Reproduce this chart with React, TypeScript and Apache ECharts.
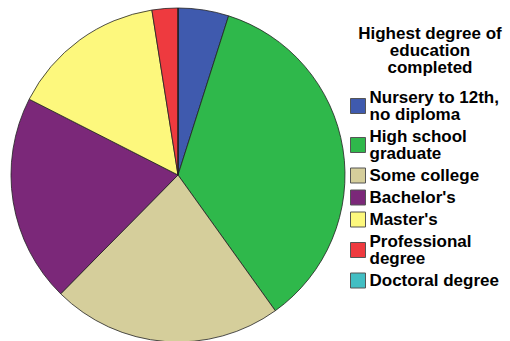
import React, { useEffect, useRef } from "react";
import * as echarts from "echarts";

const categories = [
  "Nursery to 12th, no diploma",
  "High school graduate",
  "Some college",
  "Bachelor's",
  "Master's",
  "Professional degree",
  "Doctoral degree",
];
const legendLabels = [
  "Nursery to 12th,\nno diploma",
  "High school\ngraduate",
  "Some college",
  "Bachelor's",
  "Master's",
  "Professional\ndegree",
  "Doctoral degree",
];
const values = [4.9, 35.2, 22.3, 20.1, 15.0, 2.5, 0];
const colors = ["#3f5aae", "#2fb84b", "#d5ce9b", "#7b2879", "#fdf87d", "#ee3a3f", "#42bec3"];
const titleText = "Highest degree of\neducation\ncompleted";

export default function App() {
  const ref = useRef<HTMLDivElement>(null);
  useEffect(() => {
    document.body.style.margin = "0";
    if (!ref.current) return;
    const chart = echarts.init(ref.current, undefined, { renderer: "svg" });
    chart.setOption({
      animation: false,
      textStyle: { fontFamily: "Liberation Sans, Arial, sans-serif" },
      title: {
        text: titleText,
        left: 430,
        top: 25,
        textAlign: "center",
        padding: 0,
        textStyle: {
          fontSize: 17,
          fontWeight: "bold",
          color: "#000",
          lineHeight: 17,
          fontFamily: "Liberation Sans, Arial, sans-serif",
        },
      },
      legend: {
        orient: "vertical",
        left: 350,
        top: 89,
        padding: 0,
        itemWidth: 15,
        itemHeight: 15,
        itemGap: 5,
        icon: "rect",
        selectedMode: false,
        data: categories.map((c) => ({ name: c })),
        formatter: (name: string) => legendLabels[categories.indexOf(name)],
        textStyle: {
          fontSize: 17,
          fontWeight: "bold",
          color: "#000",
          lineHeight: 17,
          padding: [0, 0, 0, -1],
          fontFamily: "Liberation Sans, Arial, sans-serif",
        },
        itemStyle: { borderColor: "#555", borderWidth: 1 },
      },
      series: [
        {
          type: "pie",
          center: [178, 175],
          radius: 167,
          startAngle: 90,
          clockwise: true,
          label: { show: false },
          labelLine: { show: false },
          emphasis: { disabled: true },
          itemStyle: { borderColor: "#222", borderWidth: 0.8 },
          data: categories.map((c, i) => ({
            name: c,
            value: values[i],
            itemStyle: { color: colors[i] },
          })),
        },
      ],
    });
    return () => chart.dispose();
  }, []);
  return <div ref={ref} style={{ width: 510, height: 341 }} />;
}
